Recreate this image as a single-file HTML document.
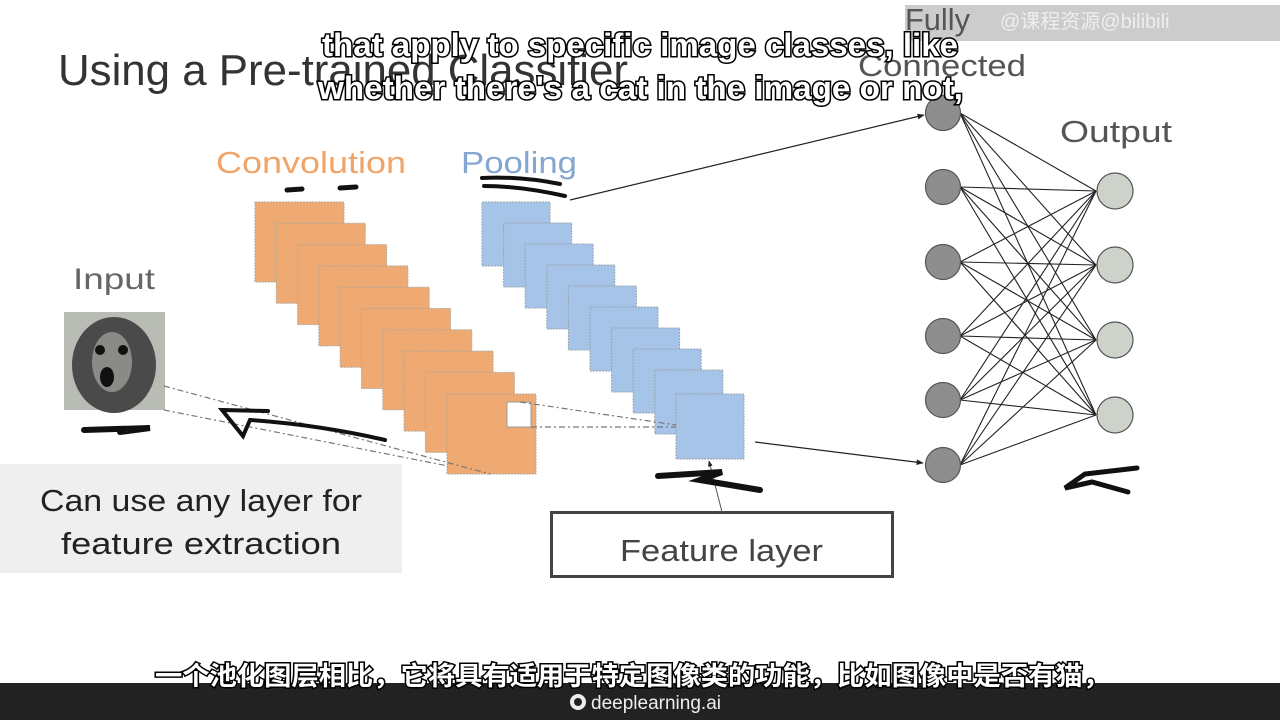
<!DOCTYPE html>
<html><head><meta charset="utf-8"><style>
html,body{margin:0;padding:0;background:#fff;}
body{width:1280px;height:720px;overflow:hidden;position:relative;}
svg{position:absolute;left:0;top:0;}
</style></head><body>
<svg width="1280" height="720" viewBox="0 0 1280 720" xmlns="http://www.w3.org/2000/svg">
<defs>
<marker id="ah" viewBox="0 0 10 10" refX="9" refY="5" markerWidth="6" markerHeight="6" orient="auto"><path d="M0,1 L10,5 L0,9 z" fill="#222"/></marker>
</defs>
<rect width="1280" height="720" fill="#fff"/>
<rect x="905" y="5" width="375" height="36" fill="#9a9a9a" opacity="0.5"/>
<text x="1000" y="28" font-family="Liberation Sans, Noto Sans CJK SC, sans-serif" font-size="20" fill="#eee">@课程资源@bilibili</text>
<text x="58" y="85" font-family="Liberation Sans, sans-serif" font-size="44" fill="#333" textLength="570" lengthAdjust="spacingAndGlyphs">Using a Pre-trained Classifier</text>
<text x="216" y="173" font-family="Liberation Sans, sans-serif" font-size="31" fill="#f0a468" textLength="190" lengthAdjust="spacingAndGlyphs">Convolution</text>
<text x="461" y="173" font-family="Liberation Sans, sans-serif" font-size="31" fill="#86a6d2" textLength="116" lengthAdjust="spacingAndGlyphs">Pooling</text>
<text x="73" y="289" font-family="Liberation Sans, sans-serif" font-size="30" fill="#666" textLength="82" lengthAdjust="spacingAndGlyphs">Input</text>
<text x="905" y="30" font-family="Liberation Sans, sans-serif" font-size="31" fill="#555" textLength="65" lengthAdjust="spacingAndGlyphs">Fully</text>
<text x="858" y="76" font-family="Liberation Sans, sans-serif" font-size="31" fill="#555" textLength="168" lengthAdjust="spacingAndGlyphs">Connected</text>
<text x="1060" y="142" font-family="Liberation Sans, sans-serif" font-size="31" fill="#555" textLength="112" lengthAdjust="spacingAndGlyphs">Output</text>
<g fill="#eeaa72" stroke="#b8a898" stroke-width="1" stroke-dasharray="2 1">
<rect x="255" y="202" width="89" height="80"/>
<rect x="276.3" y="223.3" width="89" height="80"/>
<rect x="297.6" y="244.6" width="89" height="80"/>
<rect x="318.9" y="265.9" width="89" height="80"/>
<rect x="340.2" y="287.2" width="89" height="80"/>
<rect x="361.5" y="308.5" width="89" height="80"/>
<rect x="382.8" y="329.8" width="89" height="80"/>
<rect x="404.1" y="351.1" width="89" height="80"/>
<rect x="425.4" y="372.4" width="89" height="80"/>
<rect x="447" y="394" width="89" height="80"/>
</g>
<rect x="507" y="402" width="24" height="25" fill="#fff" stroke="#999" stroke-width="1"/>
<g fill="#a6c4e8" stroke="#9aa4ae" stroke-width="1" stroke-dasharray="2 1">
<rect x="482" y="202" width="68" height="64"/>
<rect x="503.6" y="223" width="68" height="64"/>
<rect x="525.2" y="244" width="68" height="64"/>
<rect x="546.8" y="265" width="68" height="64"/>
<rect x="568.4" y="286" width="68" height="64"/>
<rect x="590" y="307" width="68" height="64"/>
<rect x="611.6" y="328" width="68" height="64"/>
<rect x="633.2" y="349" width="68" height="64"/>
<rect x="654.8" y="370" width="68" height="64"/>
<rect x="676" y="394" width="68" height="65"/>
</g>
<rect x="64" y="312" width="101" height="98" fill="#b8bcb4"/>
<ellipse cx="114" cy="365" rx="42" ry="48" fill="#4a4a4a"/>
<ellipse cx="112" cy="362" rx="20" ry="30" fill="#8a8a86"/>
<circle cx="100" cy="350" r="5" fill="#111"/><circle cx="123" cy="350" r="5" fill="#111"/>
<ellipse cx="107" cy="377" rx="7" ry="10" fill="#111"/>
<g stroke="#777" stroke-width="1.2" stroke-dasharray="6 3 2 3" fill="none">
<line x1="164" y1="386" x2="490" y2="474"/>
<line x1="164" y1="410" x2="448" y2="466"/>
<line x1="520" y1="402" x2="676" y2="425"/>
<line x1="531" y1="427" x2="676" y2="427"/>
</g>
<rect x="0" y="464" width="402" height="109" fill="#f0eff0"/>
<text x="40" y="511" font-family="Liberation Sans, sans-serif" font-size="31" fill="#222" textLength="322" lengthAdjust="spacingAndGlyphs">Can use any layer for</text>
<text x="61" y="554" font-family="Liberation Sans, sans-serif" font-size="31" fill="#222" textLength="280" lengthAdjust="spacingAndGlyphs">feature extraction</text>
<rect x="551.5" y="512.5" width="341" height="64" fill="#fff" stroke="#444" stroke-width="3"/>
<text x="620" y="561" font-family="Liberation Sans, sans-serif" font-size="31" fill="#444" textLength="203" lengthAdjust="spacingAndGlyphs">Feature layer</text>
<line x1="722" y1="512" x2="709" y2="461" stroke="#555" stroke-width="1" marker-end="url(#ah)"/>
<line x1="570" y1="200" x2="924" y2="115" stroke="#222" stroke-width="1.2" marker-end="url(#ah)"/>
<line x1="755" y1="442" x2="923" y2="463" stroke="#222" stroke-width="1.2" marker-end="url(#ah)"/>
<g stroke="#222" stroke-width="1.1">
<line x1="960" y1="113" x2="1096" y2="191"/><line x1="960" y1="113" x2="1096" y2="265"/><line x1="960" y1="113" x2="1096" y2="340"/><line x1="960" y1="113" x2="1096" y2="415"/>
<line x1="960" y1="187" x2="1096" y2="191"/><line x1="960" y1="187" x2="1096" y2="265"/><line x1="960" y1="187" x2="1096" y2="340"/><line x1="960" y1="187" x2="1096" y2="415"/>
<line x1="960" y1="262" x2="1096" y2="191"/><line x1="960" y1="262" x2="1096" y2="265"/><line x1="960" y1="262" x2="1096" y2="340"/><line x1="960" y1="262" x2="1096" y2="415"/>
<line x1="960" y1="336" x2="1096" y2="191"/><line x1="960" y1="336" x2="1096" y2="265"/><line x1="960" y1="336" x2="1096" y2="340"/><line x1="960" y1="336" x2="1096" y2="415"/>
<line x1="960" y1="400" x2="1096" y2="191"/><line x1="960" y1="400" x2="1096" y2="265"/><line x1="960" y1="400" x2="1096" y2="340"/><line x1="960" y1="400" x2="1096" y2="415"/>
<line x1="960" y1="465" x2="1096" y2="191"/><line x1="960" y1="465" x2="1096" y2="265"/><line x1="960" y1="465" x2="1096" y2="340"/><line x1="960" y1="465" x2="1096" y2="415"/>
</g>
<g fill="#8e8e8e" stroke="#555" stroke-width="1.2">
<circle cx="943" cy="113" r="17.5"/><circle cx="943" cy="187" r="17.5"/><circle cx="943" cy="262" r="17.5"/>
<circle cx="943" cy="336" r="17.5"/><circle cx="943" cy="400" r="17.5"/><circle cx="943" cy="465" r="17.5"/>
</g>
<g fill="#cdd3cb" stroke="#555" stroke-width="1.2">
<circle cx="1115" cy="191" r="18"/><circle cx="1115" cy="265" r="18"/><circle cx="1115" cy="340" r="18"/><circle cx="1115" cy="415" r="18"/>
</g>
<g stroke="#111" stroke-linecap="round" fill="none">
<path d="M287 190 L302 189 M340 188 L356 187" stroke-width="5"/>
<path d="M482 178 Q520 176 560 184 M484 186 Q520 186 565 196" stroke-width="4"/>
<path d="M84 430 L150 428 L120 432" stroke-width="6"/>
<path d="M268 411 L222 410 L243 436 L250 420 Q320 425 385 440" stroke-width="4"/>
<path d="M658 476 L722 472 L700 480 L760 490" stroke-width="6"/>
<path d="M1137 468 L1085 474 L1065 488 L1092 482 L1128 492" stroke-width="5"/>
</g>
<g font-family="Liberation Sans, sans-serif" font-size="32" font-weight="bold" fill="#fff" stroke="#000" stroke-width="3" paint-order="stroke">
<text x="322" y="56" textLength="636" lengthAdjust="spacingAndGlyphs">that apply to specific image classes, like</text>
<text x="318" y="99" textLength="645" lengthAdjust="spacingAndGlyphs">whether there's a cat in the image or not,</text>
</g>
<rect x="0" y="683" width="1280" height="37" fill="#222"/>
<text x="155" y="685" textLength="955" lengthAdjust="spacingAndGlyphs" font-family="Liberation Sans, Noto Sans CJK SC, sans-serif" font-size="26" font-weight="bold" fill="#fff" stroke="#000" stroke-width="3" paint-order="stroke">一个池化图层相比，它将具有适用于特定图像类的功能，比如图像中是否有猫，</text>
<circle cx="578" cy="702" r="8" fill="#eee"/>
<circle cx="578" cy="702" r="4" fill="#222"/>
<text x="591" y="709" font-family="Liberation Sans, sans-serif" font-size="19" fill="#eee" textLength="130" lengthAdjust="spacingAndGlyphs">deeplearning.ai</text>
</svg>
</body></html>
